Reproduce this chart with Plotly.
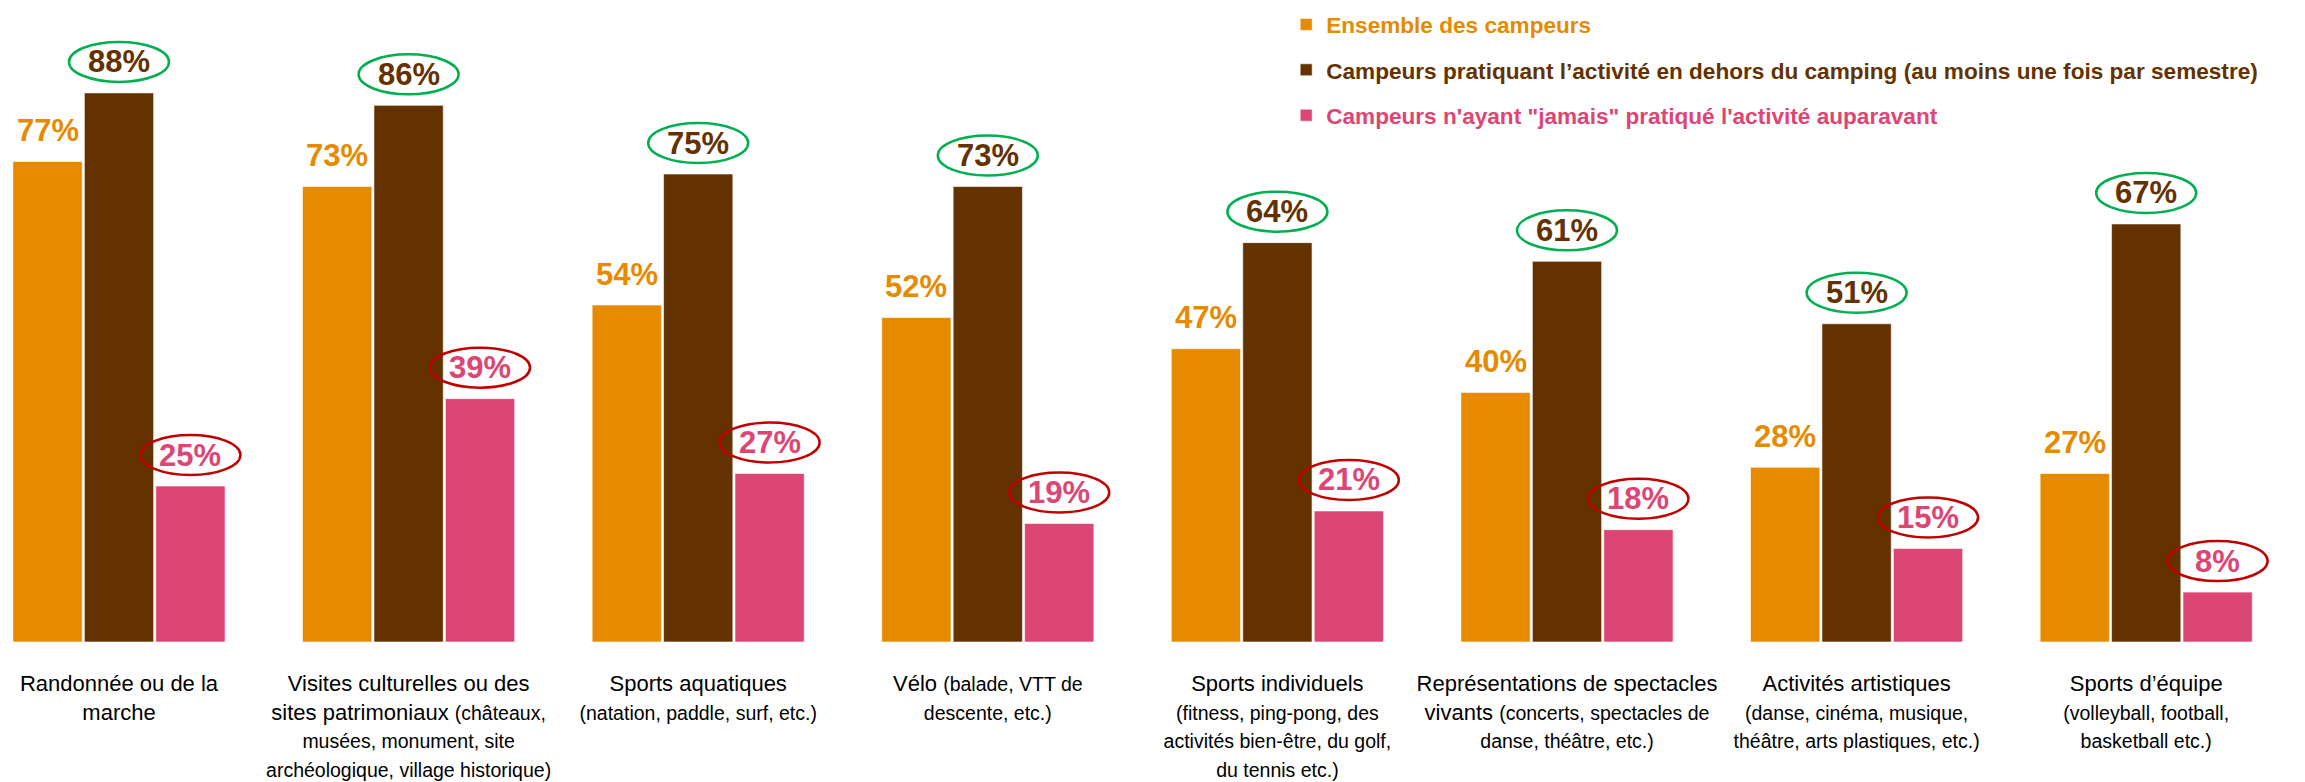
import plotly.graph_objects as go

SMALL = "<span style='font-size:19.5px'>{}</span>"

categories = [
    "Randonnée ou de la<br>marche",
    "Visites culturelles ou des<br>sites patrimoniaux " + SMALL.format("(châteaux,") + "<br>" + SMALL.format("musées, monument, site") + "<br>" + SMALL.format("archéologique, village historique)"),
    "Sports aquatiques<br>" + SMALL.format("(natation, paddle, surf, etc.)"),
    "Vélo " + SMALL.format("(balade, VTT de") + "<br>" + SMALL.format("descente, etc.)"),
    "Sports individuels<br>" + SMALL.format("(fitness, ping-pong, des") + "<br>" + SMALL.format("activités bien-être, du golf,") + "<br>" + SMALL.format("du tennis etc.)"),
    "Représentations de spectacles<br>vivants " + SMALL.format("(concerts, spectacles de") + "<br>" + SMALL.format("danse, théâtre, etc.)"),
    "Activités artistiques<br>" + SMALL.format("(danse, cinéma, musique,") + "<br>" + SMALL.format("théâtre, arts plastiques, etc.)"),
    "Sports d’équipe<br>" + SMALL.format("(volleyball, football,") + "<br>" + SMALL.format("basketball etc.)"),
]

ensemble = [77, 73, 54, 52, 47, 40, 28, 27]
hors_camping = [88, 86, 75, 73, 64, 61, 51, 67]
jamais = [25, 39, 27, 19, 21, 18, 15, 8]

series_names = [
    "Ensemble des campeurs",
    "Campeurs pratiquant l’activité en dehors du camping (au moins une fois par semestre)",
    "Campeurs n'ayant \"jamais\" pratiqué l'activité auparavant",
]
series_values = [ensemble, hors_camping, jamais]
colors = ["#E68A00", "#633200", "#DC4674"]
ellipse_colors = [None, "#00B050", "#C00000"]

BARGAP = 0.26
W, H = 2305, 782
PLOT_BOTTOM = 642

xs = list(range(len(categories)))
fig = go.Figure()

for k, (name, vals, col) in enumerate(zip(series_names, series_values, colors)):
    fig.add_trace(go.Bar(
        x=xs, y=vals,
        name=f"<span style='color:{col}'><b>{name}</b></span>",
        marker=dict(color=col, line=dict(color="rgba(255,255,255,0.6)", width=1)),
        legendgroup=f"g{k}",
        hoverinfo="skip",
    ))

slot = (1 - BARGAP) / 3
annotations = []
shapes = []
for k, (vals, col) in enumerate(zip(series_values, colors)):
    off = (k - 1) * slot
    for i, v in enumerate(vals):
        annotations.append(dict(
            x=i + off, y=v, xref="x", yref="y",
            text=f"<b>{v}%</b>", showarrow=False,
            font=dict(family="Liberation Sans, Arial, sans-serif", size=31, color=col),
            xanchor="center", yanchor="middle", yshift=31,
        ))
        if ellipse_colors[k]:
            shapes.append(dict(
                type="circle", xref="x", yref="y",
                xsizemode="pixel", ysizemode="pixel",
                xanchor=i + off, yanchor=v,
                x0=-50, x1=50, y0=11, y1=51,
                line=dict(color=ellipse_colors[k], width=2.5),
                fillcolor="rgba(0,0,0,0)",
            ))

px_per_unit = 6.24
first_center = 119
pitch = 289.6

fig.update_layout(
    width=W, height=H, autosize=False,
    margin=dict(l=0, r=0, t=0, b=H - PLOT_BOTTOM, pad=0),
    barmode="group", bargap=BARGAP, bargroupgap=0.03,
    plot_bgcolor="white", paper_bgcolor="white",
    annotations=annotations, shapes=shapes,
    legend=dict(
        x=0.558, y=0.995, xanchor="left", yanchor="top",
        font=dict(family="Liberation Sans, Arial, sans-serif", size=22.6),
        tracegroupgap=13, bgcolor="rgba(0,0,0,0)",
    ),
    xaxis=dict(
        tickmode="array", tickvals=xs, ticktext=categories,
        range=[-first_center / pitch, (W - first_center) / pitch],
        showgrid=False, zeroline=False, showline=False, ticks="",
        tickfont=dict(family="Liberation Sans, Arial, sans-serif", size=22, color="#000000"),
        ticklabelstandoff=26, automargin=False, tickangle=0,
    ),
    yaxis=dict(
        range=[0, PLOT_BOTTOM / px_per_unit],
        visible=False, showgrid=False, zeroline=False,
    ),
    showlegend=True,
)

fig.write_html(
    "out.html",
    config={"displayModeBar": False},
    post_script="document.body.style.margin='0';document.body.style.overflow='hidden';",
)
